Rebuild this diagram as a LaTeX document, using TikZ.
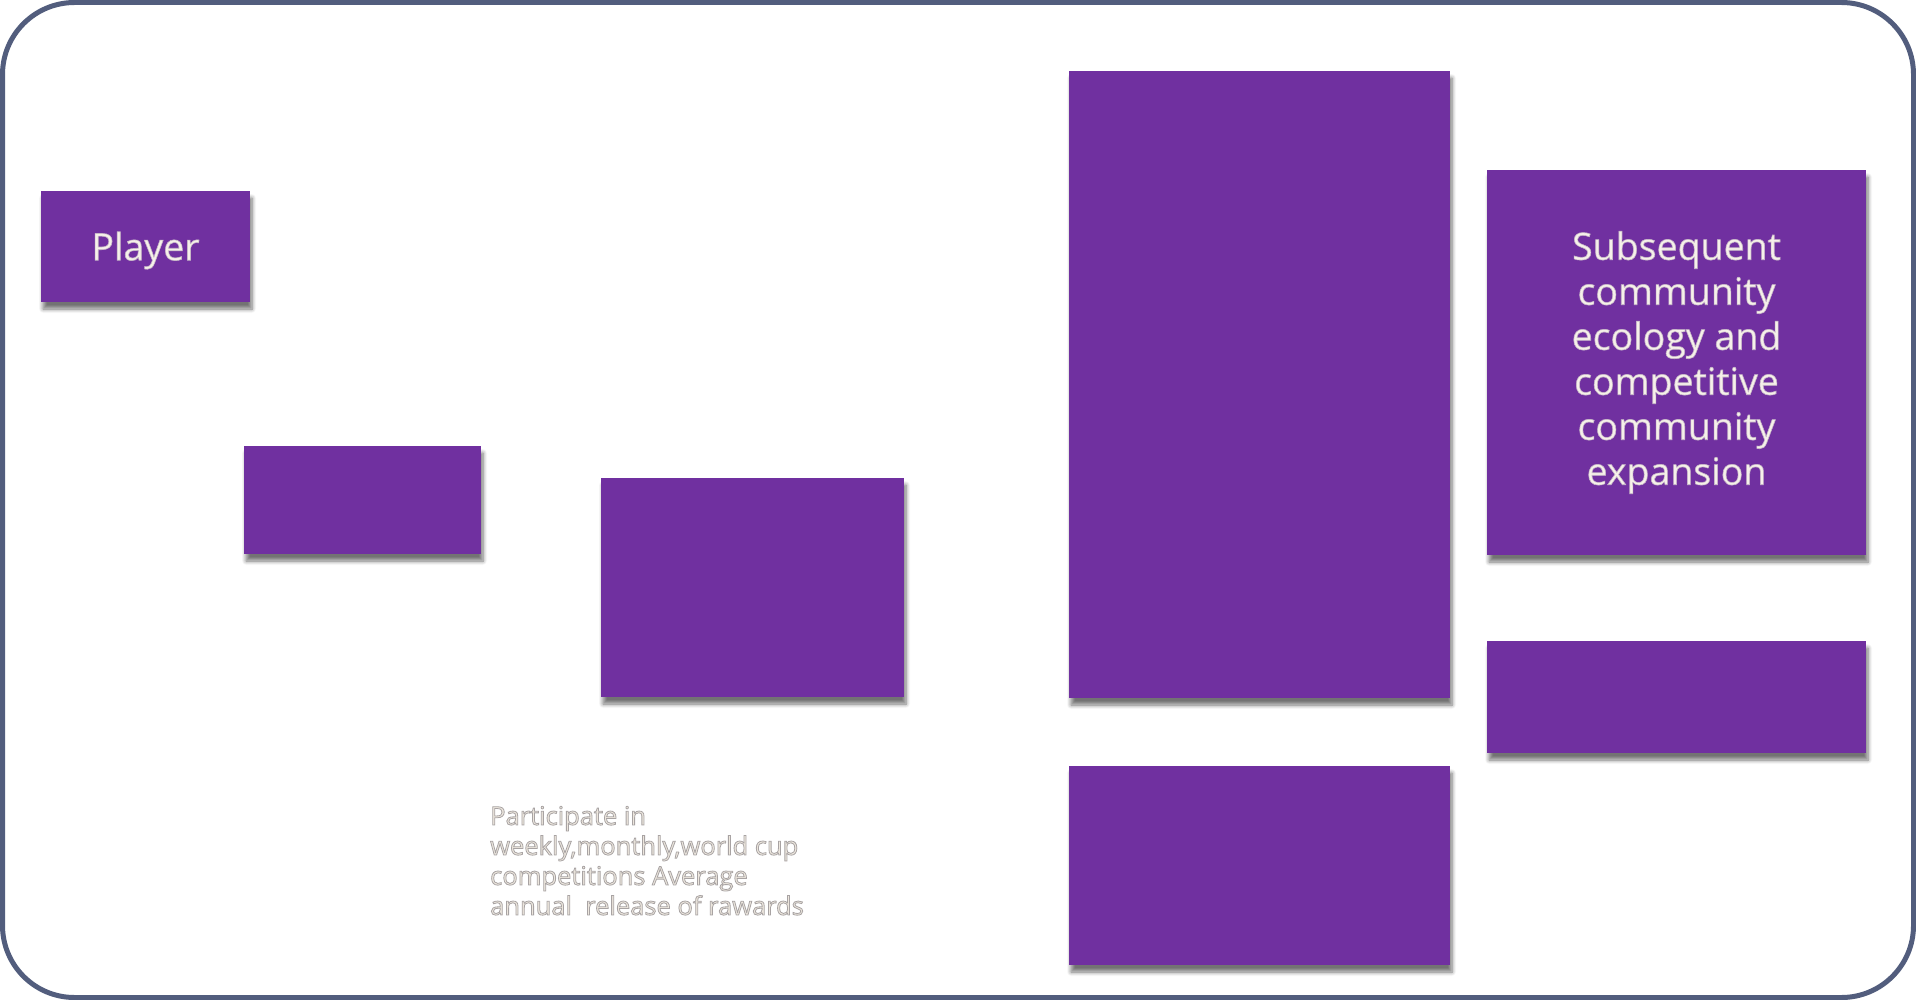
\documentclass[tikz,border=0pt]{standalone}
\usepackage{fontspec}
\setmainfont{Open Sans}
\usetikzlibrary{shadows.blur}
\definecolor{boxpurple}{HTML}{7030A0}
\definecolor{framecol}{HTML}{525D7D}
\definecolor{cream}{HTML}{F6F1EA}
\definecolor{softgray}{HTML}{EDE7DE}
% text with a soft outline (stroke width, stroke rgb)
\newcommand\halotext[3]{\special{pdf:literal direct 2 Tr #1 w #2 RG}#3\special{pdf:literal direct 0 Tr}}
\newcommand\bx[1]{\halotext{0.6}{0.78 0.72 0.78}{#1}}
\newcommand\nt[1]{\halotext{0.8}{0.66 0.64 0.64}{#1}}
\tikzset{
  pbox/.style={fill=boxpurple, inner sep=0pt, text=cream, align=center,
    blur shadow={shadow xshift=2pt, shadow yshift=-7pt, shadow blur steps=6, shadow blur radius=4pt, shadow opacity=55}},
  boxtext/.style={font=\fontsize{37.5}{45}\selectfont},
  note/.style={text=softgray, align=left, inner sep=0pt, anchor=north west,
    font=\fontsize{25.5}{30}\selectfont}
}
\begin{document}
\begin{tikzpicture}[x=1pt,y=-1pt]
\useasboundingbox (0,0) rectangle (1916,1000);
\node[draw=framecol, line width=5pt, rounded corners=72pt, minimum width=1911pt, minimum height=995pt, inner sep=0pt] (frame) at (958,500) {};
\node[pbox, boxtext, text height=27.5pt, text depth=0pt, minimum width=209pt, minimum height=111pt] (player) at (145.5,246.5) {\bx{Player}};
\node[pbox, minimum width=237pt, minimum height=108pt] (b2) at (362.5,500) {};
\node[pbox, minimum width=303pt, minimum height=219pt] (b3) at (752.5,587.5) {};
\node[pbox, minimum width=381pt, minimum height=627pt] (big) at (1259.5,384.5) {};
\node[pbox, boxtext, minimum width=379pt, minimum height=385pt] (subs) at (1676.5,362.5) {\bx{Subsequent}\\\bx{community}\\\bx{ecology and}\\\bx{competitive}\\\bx{community}\\\bx{expansion}};
\node[pbox, minimum width=379pt, minimum height=112pt] (r2) at (1676.5,697) {};
\node[pbox, minimum width=381pt, minimum height=199pt] (bottom) at (1259.5,865.5) {};
\node[note] (part) at (490,806) {\nt{Participate in}\\\nt{weekly,monthly,world cup}\\\nt{competitions Average}\\\nt{annual\ \ release of rawards}};
\end{tikzpicture}
\end{document}
